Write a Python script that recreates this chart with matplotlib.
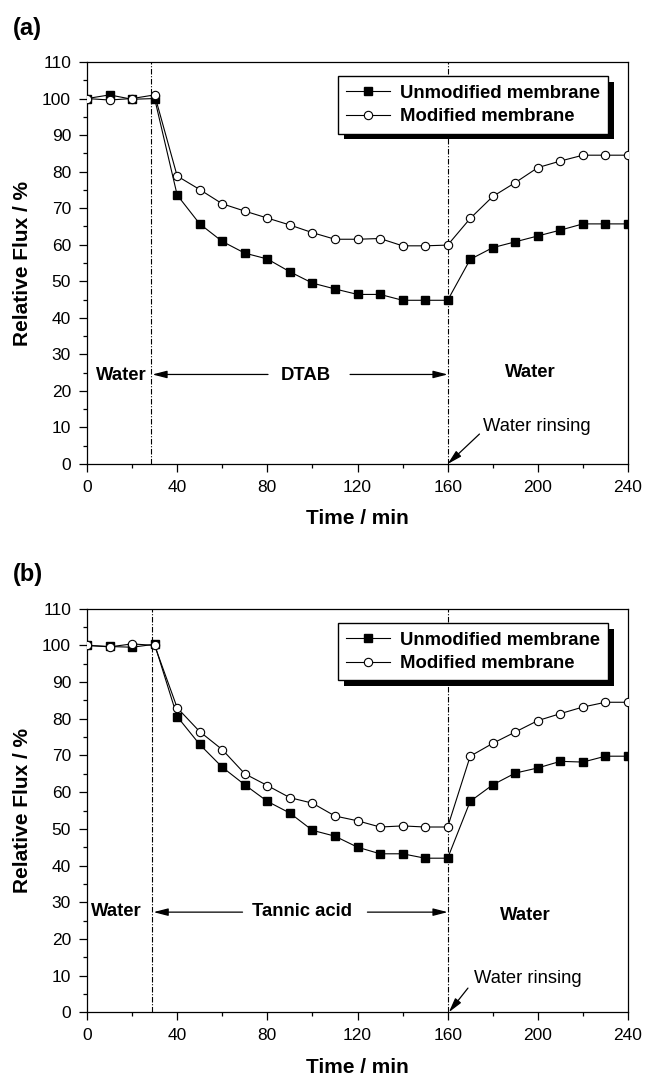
import matplotlib
matplotlib.use("Agg")
import matplotlib.pyplot as plt
from matplotlib.ticker import MultipleLocator
import matplotlib.patheffects as pe

plt.rcParams.update({
    "font.family": ["Liberation Sans", "DejaVu Sans"],
    "font.size": 12.5,
    "axes.linewidth": 0.9,
})

time = [0, 10, 20, 30, 40, 50, 60, 70, 80, 90, 100, 110, 120, 130, 140, 150,
        160, 170, 180, 190, 200, 210, 220, 230, 240]

# panel (a): DTAB
unmod_a = [100, 101, 99.8, 100, 73.6, 65.7, 60.9, 57.7, 56.1, 52.6, 49.5, 47.9,
           46.4, 46.4, 44.8, 44.8, 44.8, 56.0, 59.2, 60.8, 62.4, 64.0, 65.7, 65.7, 65.7]
mod_a = [100, 99.6, 100, 101, 78.8, 75.1, 71.2, 69.2, 67.3, 65.4, 63.3, 61.5,
         61.5, 61.7, 59.7, 59.7, 59.9, 67.2, 73.2, 77.0, 81.1, 82.9, 84.5, 84.5, 84.5]

# panel (b): tannic acid
unmod_b = [100, 99.7, 99.5, 100.3, 80.6, 73.0, 66.8, 62.0, 57.5, 54.3, 49.6, 48.0,
           45.0, 43.2, 43.2, 42.0, 42.0, 57.5, 62.0, 65.2, 66.6, 68.4, 68.2, 69.8, 69.8]
mod_b = [100, 99.6, 100.4, 100, 83.0, 76.5, 71.6, 65.0, 61.8, 58.5, 57.0, 53.5,
         52.2, 50.5, 50.8, 50.5, 50.5, 69.8, 73.3, 76.4, 79.5, 81.4, 83.2, 84.5, 84.5]

legend_labels = ["Unmodified membrane", "Modified membrane"]

W, H = 646, 1076
fig = plt.figure(figsize=(W / 100, H / 100), dpi=100)

ax_a = fig.add_axes([87 / W, 1 - 464 / H, 541 / W, 402 / H])
ax_b = fig.add_axes([87 / W, 1 - 1012.3 / H, 541 / W, 403.6 / H])

dashdot = (0, (5, 1.5, 1, 1.5))
arrow_kw = dict(arrowstyle="-|>,head_length=0.7,head_width=0.18",
                color="black", lw=0.9, shrinkA=0, shrinkB=0)


def draw_panel(ax, unmod, mod, line1, stage, ann):
    ax.plot(time, unmod, color="black", lw=0.8, marker="s", ms=5.2,
            mfc="black", mec="black", label=legend_labels[0], zorder=3)
    ax.plot(time, mod, color="black", lw=0.8, marker="o", ms=6,
            mfc="white", mec="black", mew=0.8, label=legend_labels[1], zorder=4)

    ax.axvline(line1, color="black", lw=0.8, ls=dashdot, zorder=2)
    ax.axvline(160, color="black", lw=0.8, ls=dashdot, zorder=2)

    ax.set_xlim(0, 240)
    ax.set_ylim(0, 110)
    ax.xaxis.set_major_locator(MultipleLocator(40))
    ax.xaxis.set_minor_locator(MultipleLocator(20))
    ax.yaxis.set_major_locator(MultipleLocator(10))
    ax.yaxis.set_minor_locator(MultipleLocator(5))
    ax.tick_params(which="major", direction="out", length=6, width=0.9,
                   pad=5.5, labelsize=12.5)
    ax.tick_params(which="minor", direction="out", length=3, width=0.9)

    ax.set_xlabel("Time / min", fontsize=15, fontweight="bold")
    ax.set_ylabel("Relative Flux / %", fontsize=15, fontweight="bold")
    ax.xaxis.set_label_coords(0.5, -0.112)
    ax.yaxis.set_label_coords(-0.102, 0.5)

    bold = dict(fontsize=13.3, fontweight="bold", va="center")
    ax.text(ann["water_l_x"], ann["water_l_y"], "Water", ha="right", **bold)
    ax.text(ann["stage_x"], ann["stage_y"], stage, ha="center", **bold)
    ax.text(ann["water_r_x"], ann["water_r_y"], "Water", ha="center", **bold)
    ax.annotate("", xy=(ann["larr"][1], ann["arr_y"]),
                xytext=(ann["larr"][0], ann["arr_y"]), arrowprops=arrow_kw)
    ax.annotate("", xy=(ann["rarr"][1], ann["arr_y"]),
                xytext=(ann["rarr"][0], ann["arr_y"]), arrowprops=arrow_kw)
    ax.text(ann["rinse_x"], ann["rinse_y"], "Water rinsing", fontsize=13.2,
            ha="left", va="baseline")
    ax.annotate("", xy=ann["rinse_head"], xytext=ann["rinse_tail"],
                arrowprops=arrow_kw)

    leg = ax.legend(loc="upper right", bbox_to_anchor=(0.963, 0.964),
                    borderaxespad=0, fancybox=False, framealpha=1,
                    edgecolor="black", handlelength=2.4, handletextpad=0.5,
                    labelspacing=0.35, borderpad=0.45,
                    prop=dict(size=13.3, weight="bold"))
    frame = leg.get_frame()
    frame.set_linewidth(1.0)
    frame.set_path_effects([
        pe.SimplePatchShadow(offset=(4.2, -4.2), shadow_rgbFace="black", alpha=1),
        pe.Normal(),
    ])


draw_panel(ax_a, unmod_a, mod_a, 28.5, "DTAB", dict(
    water_l_x=26.4, water_l_y=24.2, stage_x=97.1, stage_y=24.2,
    water_r_x=196.8, water_r_y=25.0, arr_y=24.5,
    larr=(80.3, 29.0), rarr=(116.7, 160.0),
    rinse_x=175.6, rinse_y=9.1, rinse_head=(160, 0), rinse_tail=(174.1, 8.2)))

draw_panel(ax_b, unmod_b, mod_b, 29.0, "Tannic acid", dict(
    water_l_x=24.3, water_l_y=27.6, stage_x=95.6, stage_y=27.5,
    water_r_x=194.5, water_r_y=26.5, arr_y=27.3,
    larr=(69.0, 29.5), rarr=(124.4, 160.0),
    rinse_x=171.7, rinse_y=7.9, rinse_head=(160.5, 0), rinse_tail=(169.0, 6.6)))

fig.text(13 / W, 1 - 28 / H, "(a)", fontsize=17, fontweight="bold",
         ha="left", va="center")
fig.text(13 / W, 1 - 574 / H, "(b)", fontsize=17, fontweight="bold",
         ha="left", va="center")

fig.savefig("out.png", dpi=100)
